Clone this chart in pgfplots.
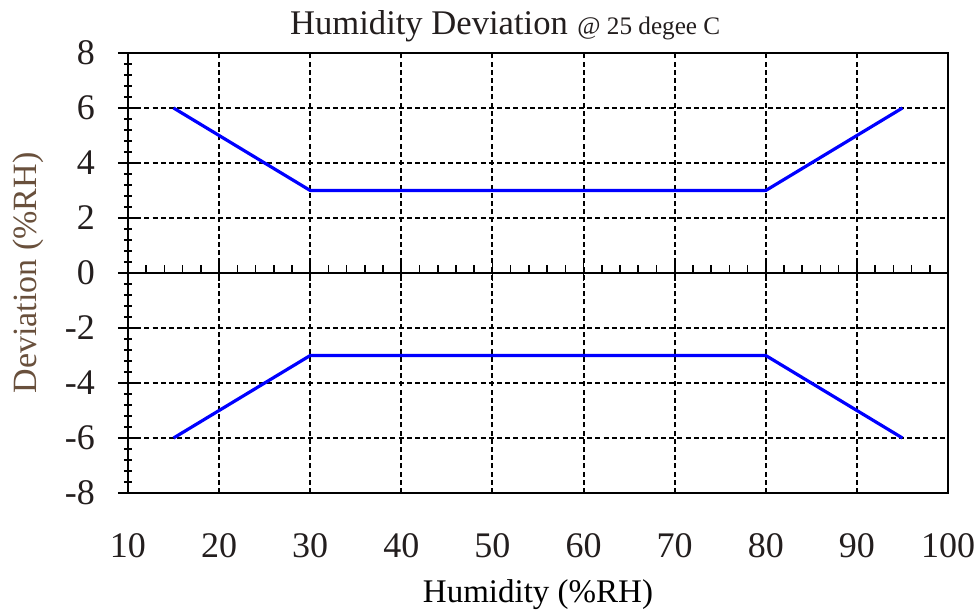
\documentclass[border=0pt]{standalone}
\usepackage{pgfplots}
\pgfplotsset{compat=1.18}
\usepackage{fontspec}
\setmainfont{Liberation Serif}
\definecolor{ylab}{RGB}{105,80,60}
\definecolor{txt}{RGB}{35,30,30}
\begin{document}
\begin{tikzpicture}
\begin{axis}[
  scale only axis,
  width=410bp, height=220bp,
  xmin=10, xmax=100, ymin=-8, ymax=8,
  xtick={10,20,...,100}, ytick={-8,-6,...,8},
  ytick pos=left,
  /pgf/number format/assume math mode=true,
  tick label style={font=\fontsize{18bp}{20bp}\selectfont, text=txt},
  xticklabel style={yshift=-17bp},
  yticklabel style={xshift=-8bp},
  xtick style={draw=none},
  ytick style={line width=0.9bp, black},
  ytick align=center,
  major tick length=10bp,
  minor y tick num=4,
  minor tick length=4bp,
  minor tick style={line width=0.8bp, black},
  axis line style={line width=1bp, black},
  grid=major,
  major grid style={black, line width=1bp, dash pattern=on 2.5bp off 1.6bp},
  clip=false,
  xlabel={Humidity (\%RH)},
  xlabel style={font=\fontsize{16.5bp}{18bp}\selectfont, text=black, at={(axis description cs:0.5,-0.23)}, anchor=center},
  ylabel={Deviation (\%RH)},
  ylabel style={font=\fontsize{17bp}{18bp}\selectfont, text=ylab, at={(axis description cs:-0.122,0.5)}, anchor=center},
]
\addplot[blue, line width=1.6bp] coordinates {(15,6) (30,3) (80,3) (95,6)};
\addplot[blue, line width=1.6bp] coordinates {(15,-6) (30,-3) (80,-3) (95,-6)};
% zero line with ticks
\draw[black, line width=1bp] (axis cs:10,0) -- (axis cs:100,0);
\pgfplotsinvokeforeach{20,30,40,50,60,70,80,90}{
  \draw[black, line width=0.9bp] ([yshift=-4bp]axis cs:#1,0) -- ([yshift=5bp]axis cs:#1,0);
}
\pgfplotsinvokeforeach{12,14,16,18,22,24,26,28,32,34,36,38,42,44,46,48,52,54,56,58,62,64,66,68,72,74,76,78,82,84,86,88,92,94,96,98}{
  \draw[black, line width=0.8bp] (axis cs:#1,0) -- ([yshift=4bp]axis cs:#1,0);
}
\end{axis}
\node[anchor=base, text=txt, inner sep=0pt] at (150.5bp,229bp) {\fontsize{17.3bp}{20bp}\selectfont Humidity Deviation};
\node[anchor=base west, text=txt, inner sep=0pt] at (224.5bp,229bp) {\fontsize{12.6bp}{14bp}\selectfont @ 25 degee C};
\pgfresetboundingbox
\path[use as bounding box] (-64bp,-61bp) rectangle (426bp,246.5bp);
\end{tikzpicture}
\end{document}
